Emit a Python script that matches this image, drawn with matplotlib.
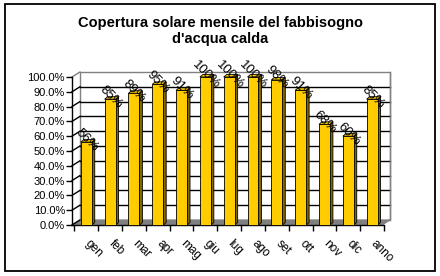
import matplotlib.pyplot as plt
import matplotlib.transforms as mtransforms
from matplotlib.patches import Polygon, Rectangle
import numpy as np

# dati
mesi = ['gen', 'feb', 'mar', 'apr', 'mag', 'giu', 'lug', 'ago', 'set', 'ott', 'nov', 'dic', 'anno']
copertura = [0.56, 0.85, 0.89, 0.95, 0.91, 1.00, 1.00, 1.00, 0.98, 0.91, 0.68, 0.60, 0.85]
etichette = ['56%', '85%', '89%', '95%', '91%', '100%', '100%', '100%', '98%', '91%', '68%', '60%', '85%']
tick_y = np.arange(0, 1.01, 0.1)

plt.rcParams['font.family'] = ['Liberation Sans', 'DejaVu Sans']

fig = plt.figure(figsize=(4.4, 2.76), dpi=100)
W, H = 440, 276

# riquadro esterno
fig.patches.append(Rectangle((5 / W, 5 / H), 430 / W, 267 / H, transform=fig.transFigure,
                             fill=False, edgecolor='black', lw=1.3))

fig.text(0.5, 1 - 31 / H, "Copertura solare mensile del fabbisogno\nd'acqua calda",
         ha='center', va='center', fontsize=10.5, fontweight='bold', linespacing=1.25)

x0, x1 = -0.6, 12.4
ax = fig.add_axes([72 / W, (H - 225) / H, 312 / W, 148 / H])
ax.set_xlim(x0, x1)
ax.set_ylim(0, 1)
ax.set_facecolor('none')

# profondita' della parete posteriore (in unita' dati)
dx = 8 / (312 / (x1 - x0))
dy = 5 / 148
# profondita' delle colonne
bdx = 3 / (312 / (x1 - x0))
bdy = 2.5 / 148

# pavimento grigio
ax.add_patch(Polygon([(x0, 0), (x1, 0), (x1 + dx, dy), (x0 + dx, dy)], closed=True,
                     facecolor='#808080', edgecolor='#808080', lw=0.8, clip_on=False, zorder=1))
# parete di fondo
ax.add_patch(Rectangle((x0 + dx, dy), x1 - x0, 1.0, fill=False, edgecolor='#808080',
                       lw=1.0, clip_on=False, zorder=1))
ax.plot([x0, x0 + dx], [1, 1 + dy], color='#808080', lw=1.0, clip_on=False, zorder=1)
ax.plot([x1, x1 + dx], [0, dy], color='#808080', lw=1.0, clip_on=False, zorder=1)
for v in tick_y[1:-1]:
    ax.plot([x0 + dx, x1 + dx], [v + dy, v + dy], color='black', lw=1.0, clip_on=False, zorder=1)
for v in tick_y[:-1]:
    ax.plot([x0, x0 + dx], [v, v + dy], color='black', lw=1.0, clip_on=False, zorder=1)
ax.plot([x1 + dx, x1 + dx], [dy, 1 + dy], color='#808080', lw=1.0, clip_on=False, zorder=1)

# colonne pseudo-3D
w = 0.46
for i, v in enumerate(copertura):
    l, r = i - w / 2, i + w / 2
    lato = Polygon([(r, 0), (r + bdx, bdy), (r + bdx, v + bdy), (r, v)], closed=True,
                   facecolor='#806600', edgecolor='black', lw=0.6, clip_on=False, zorder=3)
    cima = Polygon([(l, v), (r, v), (r + bdx, v + bdy), (l + bdx, v + bdy)], closed=True,
                   facecolor='#FFCC00', edgecolor='black', lw=0.6, clip_on=False, zorder=3)
    ax.add_patch(lato)
    ax.add_patch(cima)
ax.bar(range(len(mesi)), copertura, width=w, color='#FFCC00', edgecolor='black', lw=0.6,
       zorder=4, clip_on=False)

for i, (v, t) in enumerate(zip(copertura, etichette)):
    ax.text(i + 0.02, v + 0.015, t, rotation=-45, rotation_mode='anchor', ha='center',
            va='center', fontsize=9.5, zorder=5, clip_on=False)

for s in ['top', 'right']:
    ax.spines[s].set_visible(False)
ax.spines['left'].set_linewidth(1.0)
ax.spines['bottom'].set_linewidth(1.0)

ax.set_yticks(tick_y)
ax.set_yticklabels(['%.1f%%' % (v * 100) for v in tick_y], fontsize=8)
ax.tick_params(axis='y', length=4, width=1, pad=1)

ax.set_xticks(range(len(mesi)))
ax.set_xticks(np.arange(-0.5, len(mesi), 1.0), minor=True)
ax.set_xticklabels(mesi, fontsize=8.5, rotation=-45, ha='left', rotation_mode='anchor')
ax.tick_params(axis='x', which='major', length=0, pad=9)
ax.tick_params(axis='x', which='minor', length=4, width=1)
sposta = mtransforms.ScaledTranslation(5 / 100, 0, fig.dpi_scale_trans)
for lab in ax.get_xticklabels():
    lab.set_transform(lab.get_transform() + sposta)

fig.savefig('out.png', dpi=100)
